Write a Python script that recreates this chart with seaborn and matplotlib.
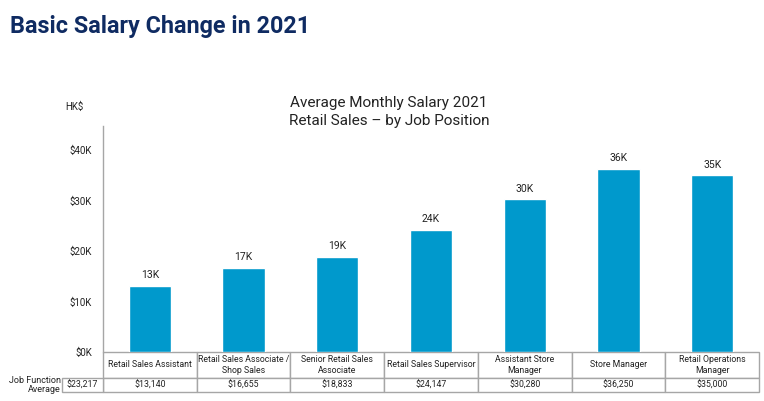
import pandas as pd
import seaborn as sns
import matplotlib.pyplot as plt

# Chart data
positions = ["Retail Sales Assistant", "Retail Sales Associate /\nShop Sales",
             "Senior Retail Sales\nAssociate", "Retail Sales Supervisor",
             "Assistant Store\nManager", "Store Manager", "Retail Operations\nManager"]
salaries = [13140, 16655, 18833, 24147, 30280, 36250, 35000]
job_function_average = 23217
y_ticks = [0, 10000, 20000, 30000, 40000]
y_tick_labels = ["$0K", "$10K", "$20K", "$30K", "$40K"]

BAR = "#0099cc"
NAVY = "#0f2b62"
GRID = "#a6a6a6"

sns.set_theme(style="white")
plt.rcParams["font.family"] = ["Roboto", "DejaVu Sans"]

df = pd.DataFrame({"position": positions, "salary": salaries})

fig = plt.figure(figsize=(7.64, 4.01), dpi=100)
ax = fig.add_axes([103 / 764, 49 / 401, 656 / 764, 226 / 401])

sns.barplot(data=df, x="position", y="salary", color=BAR, width=0.45,
            saturation=1, ax=ax)

ax.set_xlim(-0.5, len(positions) - 0.5)
ax.set_ylim(0, 44750)
ax.set_yticks(y_ticks)
ax.set_yticklabels(y_tick_labels, fontsize=7, color="#222222")
ax.tick_params(axis="y", length=0, pad=8)
ax.set_xticks([])
ax.set_xlabel("")
ax.set_ylabel("")
for side in ["top", "right", "bottom"]:
    ax.spines[side].set_visible(False)
ax.spines["left"].set_color(GRID)
ax.spines["left"].set_linewidth(1)

ax.bar_label(ax.containers[0], labels=[f"{v / 1000:.0f}K" for v in salaries],
             padding=4, fontsize=7.5, color="#222222")

# Table under the bars
cell_text = [positions, [f"${v:,}" for v in salaries]]
tbl = ax.table(cellText=cell_text, cellLoc="center",
               bbox=[0, -40 / 226, 1, 40 / 226])
tbl.auto_set_font_size(False)
tbl.set_fontsize(6.3)
for (r, c), cell in tbl.get_celld().items():
    cell.set_edgecolor(GRID)
    cell.set_linewidth(1)
    cell.set_height(25 if r == 0 else 14)
    cell.get_text().set_color("#222222")

avg_tbl = ax.table(cellText=[[f"${job_function_average:,}"]], cellLoc="center",
                   bbox=[-41 / 656, -40 / 226, 41 / 656, 14 / 226])
avg_tbl.auto_set_font_size(False)
avg_tbl.set_fontsize(6.3)
for cell in avg_tbl.get_celld().values():
    cell.set_edgecolor(GRID)
    cell.set_linewidth(1)
    cell.get_text().set_color("#222222")

fig.text(61 / 764, 1 - 385 / 401, "Job Function\nAverage", ha="right",
         va="center", fontsize=6.5, color="#222222", linespacing=1.1)

# Titles
fig.text(10 / 764, 1 - 26 / 401, "Basic Salary Change in 2021", ha="left",
         va="center", fontsize=16.8, fontweight="bold", color=NAVY)
fig.text(389 / 764, 1 - 112 / 401,
         "Average Monthly Salary 2021\nRetail Sales \u2013 by Job Position",
         ha="center", va="center", fontsize=11, color="#222222",
         linespacing=1.35)
fig.text(65 / 764, 1 - 107 / 401, "HK$", ha="left", va="center",
         fontsize=7, color="#222222")

fig.savefig("out.png", dpi=100)
